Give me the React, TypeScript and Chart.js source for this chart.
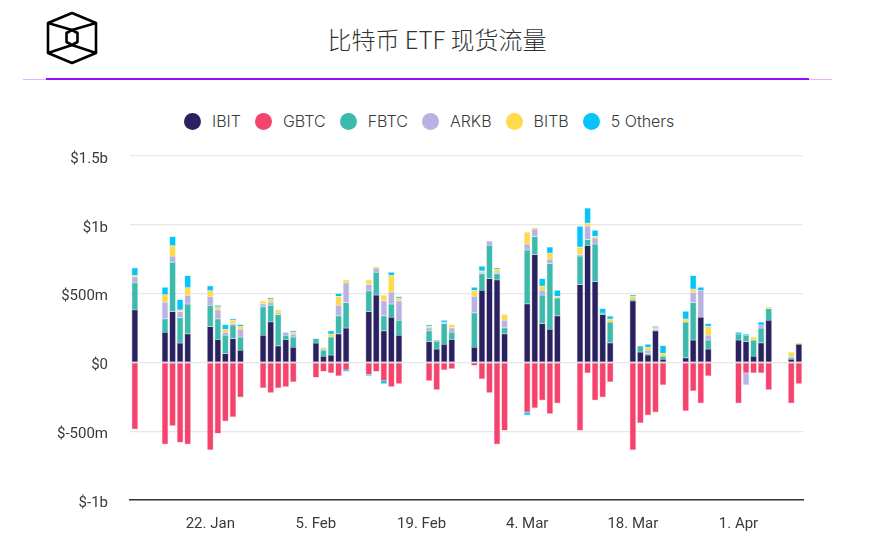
import { useEffect, useRef } from 'react';
import { Chart, registerables } from 'chart.js';

Chart.register(...registerables);

const tradingDays = [
  '2024-01-12', '2024-01-16', '2024-01-17', '2024-01-18', '2024-01-19',
  '2024-01-22', '2024-01-23', '2024-01-24', '2024-01-25', '2024-01-26',
  '2024-01-29', '2024-01-30', '2024-01-31', '2024-02-01', '2024-02-02',
  '2024-02-05', '2024-02-06', '2024-02-07', '2024-02-08', '2024-02-09',
  '2024-02-12', '2024-02-13', '2024-02-14', '2024-02-15', '2024-02-16',
  '2024-02-20', '2024-02-21', '2024-02-22', '2024-02-23',
  '2024-02-26', '2024-02-27', '2024-02-28', '2024-02-29', '2024-03-01',
  '2024-03-04', '2024-03-05', '2024-03-06', '2024-03-07', '2024-03-08',
  '2024-03-11', '2024-03-12', '2024-03-13', '2024-03-14', '2024-03-15',
  '2024-03-18', '2024-03-19', '2024-03-20', '2024-03-21', '2024-03-22',
  '2024-03-25', '2024-03-26', '2024-03-27', '2024-03-28',
  '2024-04-01', '2024-04-02', '2024-04-03', '2024-04-04', '2024-04-05',
  '2024-04-08', '2024-04-09',
];

// all in $m
const ibit = [
  382, 218, 370, 140, 208,
  261, 165, 65, 174, 87,
  196, 295, 121, 165, 109,
  140, 44, 53, 208, 249,
  370, 489, 230, 327, 196,
  152, 97, 131, 165,
  109, 523, 610, 600, 208,
  426, 784, 283, 240, 339,
  566, 849, 588, 348, 143,
  448, 75, 53, 230, 22,
  34, 162, 327, 97,
  162, 152, 44, 143, 305,
  22, 131,
];
const gbtc = [
  -485, -594, -460, -582, -594,
  -636, -516, -428, -396, -252,
  -186, -220, -186, -176, -142,
  -110, -66, -76, -98, -54,
  -88, -66, -132, -176, -154,
  -132, -198, -54, -45,
  -22, -120, -220, -594, -494,
  -362, -330, -274, -372, -296,
  -494, -76, -274, -252, -142,
  -636, -440, -384, -362, -164,
  -352, -208, -296, -98,
  -296, -76, -76, -76, -198,
  -296, -154,
];
const fbtc = [
  196, 99, 358, 186, 215,
  152, 152, 131, 99, 97,
  208, 119, 227, 31, 75,
  34, 44, 131, 131, 186,
  150, 165, 109, 97, 109,
  77, 56, 152, 53,
  252, 121, 240, 44, 44,
  390, 131, 206, 479, 128,
  206, 44, 271, 10, 150,
  10, 46, 12, 0, 22,
  259, 273, 0, 65,
  44, 44, 119, 106, 87,
  10, 0,
];
const arkb = [
  44, 119, 44, 44, 65,
  65, 65, 22, 10, 56,
  22, 22, 12, 22, 22,
  0, 10, 0, 75, 143,
  46, 31, 109, 87, 143,
  22, 10, 10, 34,
  119, 10, 31, 10, 53,
  44, 53, 34, 31, 0,
  12, 97, 44, 0, 0,
  0, 0, 22, 10, 0,
  0, 75, 196, 34,
  0, -87, 0, 22, 0,
  12, 0,
];
const bitb = [
  10, 56, 77, 12, 56,
  44, 22, 22, 22, 22,
  22, 24, 22, 0, 12,
  0, 12, 22, 65, 22,
  34, 12, 41, 121, 19,
  10, 0, 0, 22,
  44, 10, 0, 22, 44,
  87, 12, 31, 44, 12,
  53, 22, 12, 0, 22,
  22, 0, 22, 12, 22,
  22, 22, 0, 65,
  0, 0, 22, 0, 12,
  31, 10,
];
const others = [
  56, 53, 65, 75, 87,
  34, 10, 34, 12, 12,
  0, 10, 0, 0, 12,
  0, 0, 24, 22, -12,
  -10, 0, -22, 22, 12,
  12, 0, 12, 0,
  22, 34, 0, 10, 0,
  -22, 0, 56, 44, 44,
  152, 109, 44, 34, 22,
  10, 0, 22, 10, 56,
  56, 99, 22, 22,
  12, 10, 0, 22, 0,
  0, 0,
];

const seriesNames = ['IBIT', 'GBTC', 'FBTC', 'ARKB', 'BITB', '5 Others'];
const seriesColors = ['#2a2160', '#f4436d', '#3dbaac', '#b9b2e2', '#fddb4a', '#05c4fa'];
const seriesValues = [ibit, gbtc, fbtc, arkb, bitb, others];

const yTicks = [-1000, -500, 0, 500, 1000, 1500];
const yTickLabels = ['$-1b', '$-500m', '$0', '$500m', '$1b', '$1.5b'];
const xTickDays = ['2024-01-22', '2024-02-05', '2024-02-19', '2024-03-04', '2024-03-18', '2024-04-01'];
const xTickLabels = ['22. Jan', '5. Feb', '19. Feb', '4. Mar', '18. Mar', '1. Apr'];

const FONT = 'Inter, "Noto Sans", sans-serif';
const TICK_FONT = { family: 'Roboto, Inter, sans-serif', size: 15, weight: 400 };
const TEXT = '#3a3a3a';

const dayNumber = (d: string) => Date.UTC(+d.slice(0, 4), +d.slice(5, 7) - 1, +d.slice(8, 10)) / 86400000;
const firstDay = dayNumber(tradingDays[0]);
const dayOffset = (d: string) => dayNumber(d) - firstDay;

function hexAlpha(hex: string, a: number) {
  const n = parseInt(hex.slice(1), 16);
  return `rgba(${n >> 16},${(n >> 8) & 255},${n & 255},${a})`;
}

export default function App() {
  const canvasRef = useRef<HTMLCanvasElement>(null);

  useEffect(() => {
    if (!canvasRef.current) return;
    const chart = new Chart(canvasRef.current, {
      type: 'bar',
      data: {
        datasets: seriesNames.map((name, i) => ({
          label: name,
          data: seriesValues[i].map((v, j) => ({ x: dayOffset(tradingDays[j]), y: v })),
          backgroundColor: seriesColors[i],
          borderColor: hexAlpha(seriesColors[i], 0.3),
          borderWidth: 0.75,
          borderSkipped: false,
          barThickness: 6,
        })),
      },
      options: {
        responsive: false,
        animation: false,
        layout: { padding: { top: 156, right: 80, left: 0, bottom: 0 } },
        plugins: { legend: { display: false }, title: { display: false }, tooltip: { enabled: false } },
        scales: {
          x: {
            type: 'linear',
            stacked: true,
            offset: false,
            min: -0.64,
            max: 88.55,
            afterFit: (s: any) => { s.height = 43; },
            afterBuildTicks: (s: any) => { s.ticks = xTickDays.map((d) => ({ value: dayOffset(d) })); },
            grid: { display: false },
            border: { color: '#333333', width: 1.5 },
            ticks: {
              autoSkip: false,
              maxRotation: 0,
              padding: 7,
              color: TEXT,
              font: TICK_FONT,
              callback: (v: any) => xTickLabels[xTickDays.findIndex((d) => dayOffset(d) === v)] ?? '',
            },
          },
          y: {
            stacked: true,
            min: -1000,
            max: 1500,
            afterFit: (s: any) => { s.width = 130; },
            afterBuildTicks: (s: any) => { s.ticks = yTicks.map((value) => ({ value })); },
            grid: { color: '#e8e8e8', lineWidth: 1.2, drawTicks: false },
            border: { display: false },
            ticks: {
              padding: 22,
              labelOffset: 3,
              color: TEXT,
              font: TICK_FONT,
              callback: (v: any) => yTickLabels[yTicks.indexOf(v)] ?? '',
            },
          },
        },
      },
    });
    return () => chart.destroy();
  }, []);

  return (
    <div style={{ position: 'absolute', left: 0, top: 0, width: 883, height: 543, overflow: 'hidden', background: '#fff', fontFamily: FONT }}>
      <svg width={60} height={60} viewBox="0 0 60 60" style={{ position: 'absolute', left: 42, top: 8 }} fill="none" stroke="#000" strokeWidth={2.6} strokeLinejoin="round">
        {/* logo coords offset by (42,8) */}
        <path d="M30 5 L54 15 L54 45 L30 55 L6 45 L6 15 Z" />
        <path d="M30 22 L35.5 25 L35.5 34 L30 37 L24.5 34 L24.5 25 Z" />
        <path d="M6 15 L30 22 L54 15 M6 45 L30 37 L54 45" />
      </svg>
      <div style={{ position: 'absolute', left: 0, width: 874, top: 21, textAlign: 'center', fontSize: 24, lineHeight: '36px', fontWeight: 300, color: '#333', fontFamily: '"Noto Sans CJK SC", Inter, sans-serif' }}>
        比特币 ETF 现货流量
      </div>
      <div style={{ position: 'absolute', left: 23, top: 79, width: 809, height: 1, background: '#e2b4ff' }} />
      <div style={{ position: 'absolute', left: 46, top: 78, width: 763, height: 2, background: '#9a0cf0' }} />
      <div style={{ position: 'absolute', left: 184, top: 111, display: 'flex', fontSize: 16, fontWeight: 300, lineHeight: '20px', color: TEXT }}>
        {seriesNames.map((name, i) => (
          <div key={name} style={{ display: 'flex', alignItems: 'center', marginRight: 14 }}>
            <span style={{ width: 17, height: 17, borderRadius: '50%', background: seriesColors[i], marginRight: 11 }} />
            {name}
          </div>
        ))}
      </div>
      <canvas ref={canvasRef} width={883} height={543} style={{ position: 'absolute', left: 0, top: 0 }} />
    </div>
  );
}
